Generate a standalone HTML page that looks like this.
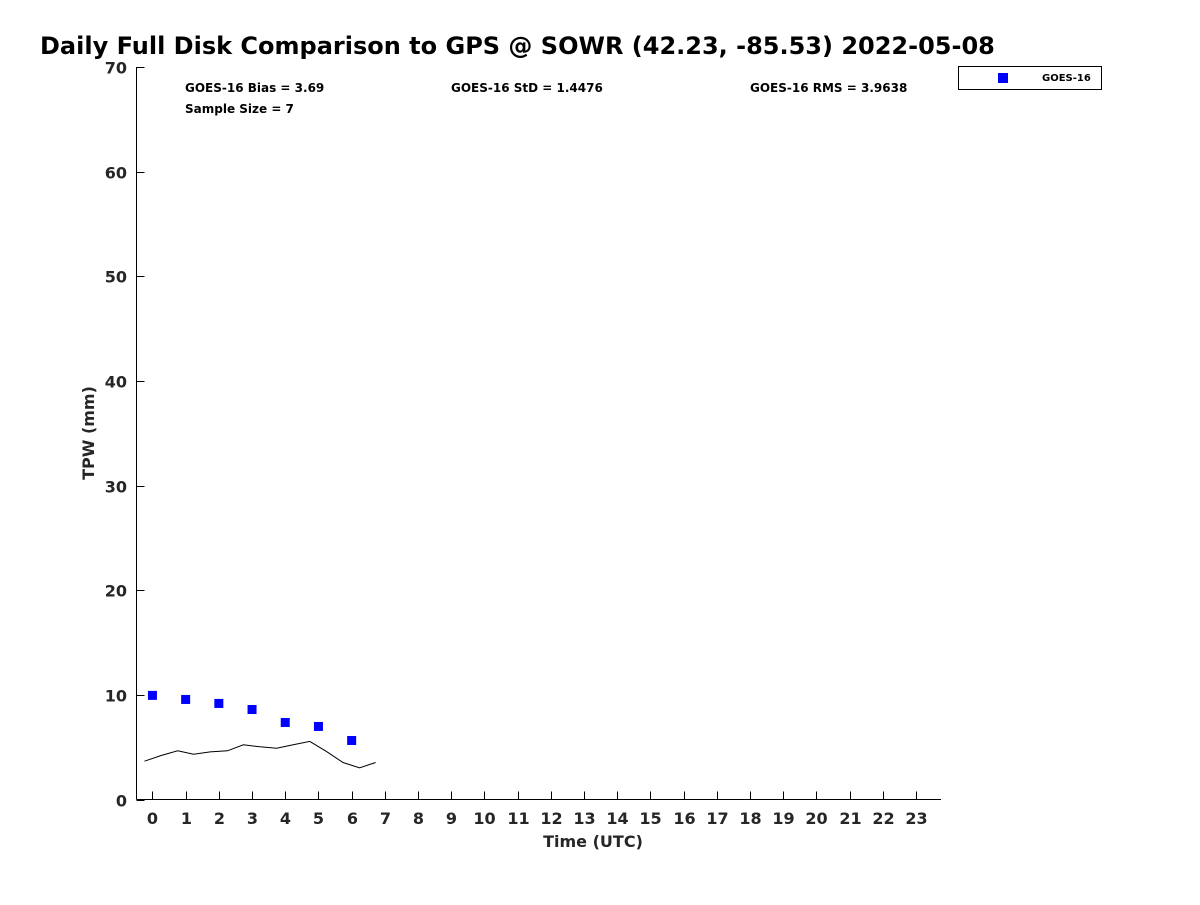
<!DOCTYPE html>
<html><head><meta charset="utf-8"><style>
body{margin:0;background:#fff;}
svg text{font-family:"DejaVu Sans","Liberation Sans",sans-serif;font-weight:bold;}
</style></head><body>
<svg id="chart" width="1200" height="900" xmlns="http://www.w3.org/2000/svg">
<rect width="1200" height="900" fill="#fff"/>
<text x="40" y="54" font-size="24" fill="#000">Daily Full Disk Comparison to GPS @ SOWR (42.23, -85.53) 2022-05-08</text>
<g id="axes"></g>
<g id="marks"></g>
<text x="185" y="92" font-size="12">GOES-16 Bias = 3.69</text>
<text x="185" y="113" font-size="12">Sample Size = 7</text>
<text x="451" y="92" font-size="12">GOES-16 StD = 1.4476</text>
<text x="750" y="92" font-size="12">GOES-16 RMS = 3.9638</text>
<g>
<rect x="958.5" y="66.5" width="143" height="23" fill="#fff" stroke="#000" stroke-width="1"/>
<rect x="998" y="73" width="10" height="10" fill="#0000ff"/>
<text x="1042" y="81" font-size="10">GOES-16</text>
</g>
<text x="593" y="847" font-size="16" fill="#262626" text-anchor="middle">Time (UTC)</text>
<text transform="translate(94,433) rotate(-90)" font-size="16" fill="#262626" text-anchor="middle">TPW (mm)</text>
</svg>
<script>
const goesHours = [0,1,2,3,4,5,6];
const goesValues = [9.95,9.56,9.18,8.6,7.36,6.98,5.64];
const gpsHours = [-0.24,0.26,0.76,1.24,1.74,2.26,2.74,3.24,3.74,4.24,4.74,5.24,5.74,6.24,6.72];
const gpsValues = [3.66,4.2,4.65,4.33,4.55,4.65,5.23,5.04,4.9,5.23,5.55,4.6,3.54,3.03,3.54];
const xTicks = Array.from({length:24},(_, i)=>i);
const yTicks = [0,10,20,30,40,50,60,70];

const NS="http://www.w3.org/2000/svg";
const X0=136.5, X1=941, XMIN=-0.48, XMAX=23.75;
const YB=799.5, YT=67, YMIN=0, YMAX=70;
function xs(v){return X0+(v-XMIN)/(XMAX-XMIN)*(X1-X0);}
function ys(v){return YB-(v-YMIN)/(YMAX-YMIN)*(YB-YT);}
function mk(tag,attrs,parent){const e=document.createElementNS(NS,tag);for(const k in attrs)e.setAttribute(k,attrs[k]);parent.appendChild(e);return e;}
const axes=document.getElementById('axes'), marks=document.getElementById('marks');
let e;
e=mk('line',{x1:X0,y1:YT,x2:X0,y2:YB,stroke:'#000'},axes);


e=mk('line',{x1:X0,y1:YB,x2:X1,y2:YB,stroke:'#000'},axes);


xTicks.forEach(t=>{
  const x=Math.round(xs(t))+0.5;
  e=mk('line',{x1:x,y1:YB,x2:x,y2:YB-8,stroke:'#000'},axes);
  
  
  e=mk('text',{x:x,y:824,'font-size':16,fill:'#262626','text-anchor':'middle'},axes);
  e.textContent=t;
  
  
});
yTicks.forEach(t=>{
  const y=Math.round(ys(t))+0.5;
  e=mk('line',{x1:X0,y1:y,x2:X0+8,y2:y,stroke:'#000'},axes);
  
  
  e=mk('text',{x:127,y:y+6,'font-size':16,fill:'#262626','text-anchor':'end'},axes);
  e.textContent=t;
  
  
});
const pts=gpsHours.map((h,i)=>xs(h).toFixed(1)+','+ys(gpsValues[i]).toFixed(1)).join(' ');
e=mk('polyline',{points:pts,fill:'none',stroke:'#000','stroke-width':1},marks);


goesHours.forEach((h,i)=>{
  e=mk('rect',{x:xs(h)-4.5,y:ys(goesValues[i])-4.5,width:9,height:9,fill:'#0000ff'},marks);
  
  
});
</script>
</body></html>
